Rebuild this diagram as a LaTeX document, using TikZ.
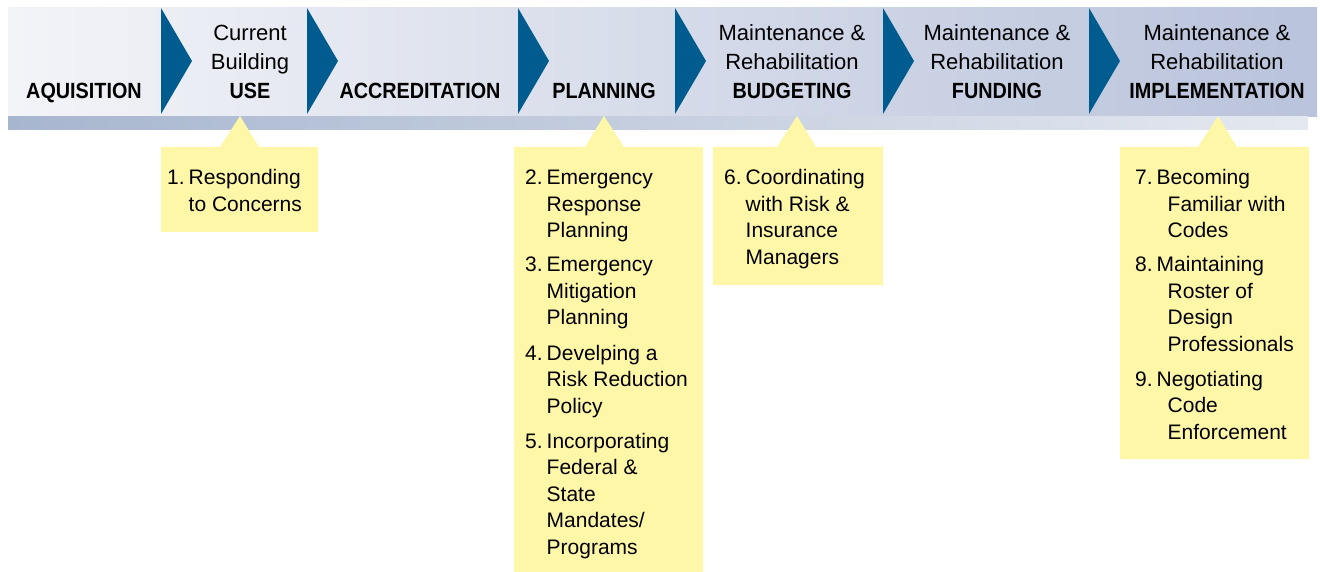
\documentclass[tikz,border=0pt]{standalone}
\usepackage{fontspec}
\setmainfont{Liberation Sans}
\newfontfamily\condb{Liberation Sans}[FakeStretch=0.9]
\definecolor{arrowblue}{HTML}{005B8F}
\definecolor{callyellow}{HTML}{FFF7A8}
\definecolor{bannerL}{HTML}{F3F4F8}
\definecolor{bannerM}{HTML}{D9DEE9}
\definecolor{bannerR}{HTML}{B9C3DB}
\definecolor{stripeL}{HTML}{A7B6CF}
\definecolor{stripeM}{HTML}{B3C0D7}
\definecolor{stripeR}{HTML}{E4E8F0}
\tikzset{
  head/.style={anchor=base, inner sep=0pt, font=\fontsize{22}{29}\selectfont},
  item/.style={anchor=base west, inner sep=0pt, font=\fontsize{21}{26.5}\selectfont},
  callout/.style={fill=callyellow, draw=none},
  chevron/.style={fill=arrowblue, draw=none}
}
\newcommand{\hd}[1]{{\condb\bfseries #1}}
\begin{document}
\begin{tikzpicture}[x=1pt,y=-1pt]
\useasboundingbox (0,0) rectangle (1320,572);
% banner
\shade[left color=bannerL, middle color=bannerM, right color=bannerR] (8,8) rectangle (1317,117);
\shade[left color=stripeL, middle color=stripeM, right color=stripeR] (8,117) rectangle (1308,130);
% chevrons
\foreach \x in {161,307,518,675,883,1089}
  \fill[chevron] (\x,8) -- (\x+31,61) -- (\x,114) -- cycle;
% headings
\node[head] (h1) at (84,99) {\hd{AQUISITION}};
\node[head] (h2) at (250,99) {\begin{tabular}[b]{@{}c@{}}Current\\ Building\\ \hd{USE}\end{tabular}};
\node[head] (h3) at (420,99) {\hd{ACCREDITATION}};
\node[head] (h4) at (604,99) {\hd{PLANNING}};
\node[head] (h5) at (792,99) {\begin{tabular}[b]{@{}c@{}}Maintenance \&\\ Rehabilitation\\ \hd{BUDGETING}\end{tabular}};
\node[head] (h6) at (997,99) {\begin{tabular}[b]{@{}c@{}}Maintenance \&\\ Rehabilitation\\ \hd{FUNDING}\end{tabular}};
\node[head] (h7) at (1217,99) {\begin{tabular}[b]{@{}c@{}}Maintenance \&\\ Rehabilitation\\ \hd{IMPLEMENTATION}\end{tabular}};
% callouts
\fill[callout] (161,147) -- (220,147) -- (240,116) -- (259,147) -- (318,147) -- (318,232) -- (161,232) -- cycle;
\fill[callout] (514,147) -- (585,147) -- (604,116) -- (624,147) -- (703,147) -- (703,572) -- (514,572) -- cycle;
\fill[callout] (713,147) -- (777,147) -- (797,116) -- (816,147) -- (883,147) -- (883,285) -- (713,285) -- cycle;
\fill[callout] (1120,147) -- (1198,147) -- (1218,116) -- (1237,147) -- (1309,147) -- (1309,459) -- (1120,459) -- cycle;
% items
\node[item] (i1) at (167,185) {\begin{tabular}[t]{@{}l@{\hspace{4pt}}l@{}}1. & Responding\\ & to Concerns\end{tabular}};
\node[item] (i2) at (525,185) {\begin{tabular}[t]{@{}l@{\hspace{4pt}}l@{}}2. & Emergency\\ & Response\\ & Planning\end{tabular}};
\node[item] (i3) at (525,272) {\begin{tabular}[t]{@{}l@{\hspace{4pt}}l@{}}3. & Emergency\\ & Mitigation\\ & Planning\end{tabular}};
\node[item] (i4) at (525,360) {\begin{tabular}[t]{@{}l@{\hspace{4pt}}l@{}}4. & Develping a\\ & Risk Reduction\\ & Policy\end{tabular}};
\node[item] (i5) at (525,448) {\begin{tabular}[t]{@{}l@{\hspace{4pt}}l@{}}5. & Incorporating\\ & Federal \&\\ & State\\ & Mandates/\\ & Programs\end{tabular}};
\node[item] (i6) at (724,185) {\begin{tabular}[t]{@{}l@{\hspace{4pt}}l@{}}6. & Coordinating\\ & with Risk \&\\ & Insurance\\ & Managers\end{tabular}};
\node[item] (i7) at (1135,185) {\begin{tabular}[t]{@{}l@{\hspace{4pt}}l@{}}7. & Becoming\\ & \hspace{11pt}Familiar with\\ & \hspace{11pt}Codes\end{tabular}};
\node[item] (i8) at (1135,272) {\begin{tabular}[t]{@{}l@{\hspace{4pt}}l@{}}8. & Maintaining\\ & \hspace{11pt}Roster of\\ & \hspace{11pt}Design\\ & \hspace{11pt}Professionals\end{tabular}};
\node[item] (i9) at (1135,386) {\begin{tabular}[t]{@{}l@{\hspace{4pt}}l@{}}9. & Negotiating\\ & \hspace{11pt}Code\\ & \hspace{11pt}Enforcement\end{tabular}};
\end{tikzpicture}
\end{document}
